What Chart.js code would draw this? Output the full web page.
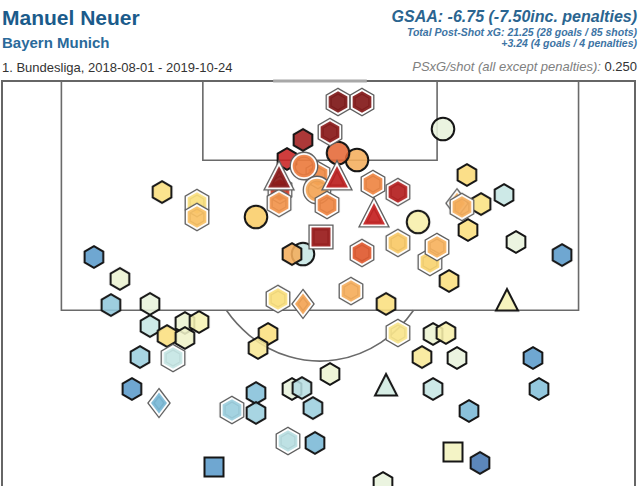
<!DOCTYPE html>
<html>
<head>
<meta charset="utf-8">
<script src="https://cdn.jsdelivr.net/npm/chart.js@4.4.1/dist/chart.umd.min.js"></script>
<style>
  body { margin: 0; background: #fff; font-family: "Liberation Sans", Arial, sans-serif; }
  #wrap { position: relative; width: 640px; height: 486px; overflow: hidden; }
  .t { position: absolute; white-space: nowrap; line-height: 1; }
  .r { right: 3px; text-align: right; font-weight: bold; font-style: italic; }
</style>
</head>
<body>
<div id="wrap">
  <div class="t" style="left:2px;top:7px;font-size:21px;font-weight:bold;color:#1b5b8b">Manuel Neuer</div>
  <div class="t" style="left:2px;top:35px;font-size:15px;font-weight:bold;color:#2a6a9a">Bayern Munich</div>
  <div class="t" style="left:2px;top:61px;font-size:13px;color:#333">1. Bundesliga, 2018-08-01 - 2019-10-24</div>
  <div class="t r" style="top:9px;font-size:16px;color:#2b6590">GSAA: -6.75 (-7.50inc. penalties)</div>
  <div class="t r" style="top:27px;font-size:10.5px;color:#3d74a4">Total Post-Shot xG: 21.25 (28 goals / 85 shots)</div>
  <div class="t r" style="top:38px;font-size:10.5px;color:#3d74a4">+3.24 (4 goals / 4 penalties)</div>
  <div class="t" style="right:3px;top:60px;font-size:13px;color:#333"><i style="color:#808080">PSxG/shot (all except penalties):</i> 0.250</div>
  <canvas id="shotChart" width="640" height="416" style="position:absolute;left:0;top:70px"></canvas>
</div>
<script>
// shot locations in metres: x across the pitch from the centre, y out from the goal line
const shotX = [10.7, -0.16, -3.13, -2.58, 8.59,
  2.89, 1.41, -1.25, -0.23, -5.0, 7.66, 9.61, -1.33,
  1.41, 3.28, 0.78, -1.33, 4.14, 6.09, 0.55, -3.2, -9.61, -9.61,
  -12.34, 11.48, 14.38, 12.58, 11.09, 11.56, 6.09, 9.14, 3.28, -2.19,
  15.31, 18.91, 10.08, 2.42, 5.16, -17.66, -15.63, -16.33, -13.28, -3.28,
  -13.28, -10.55, -9.45, -11.95, -10.55, -4.06, -4.84, 6.09, 8.83, 9.84,
  7.97, 10.7, 16.64, 0.78, -14.06, -11.48, -14.69, -5.0, -6.88, -5.0,
  -2.19, -1.41, -0.55, -2.5, -0.39, 8.83, 17.11, 11.64, 12.5, 4.92,
  -1.33, -12.58,
  -3.2, 1.33, 4.22, 14.61, 5.16,
  0.08, -8.28, 10.39];
const shotY = [8.8, 6.76, 7.84, 5.61, 13.02,
  5.68, 5.18, 6.12, 7.84, 9.78, 10.14, 3.45, 12.45,
  1.51, 1.51, 3.67, 4.24, 7.41, 7.99, 8.92, 8.78, 8.78, 9.78,
  7.99, 6.76, 8.2, 8.85, 9.06, 10.72, 11.65, 11.94, 12.37, 12.45,
  11.58, 12.52, 14.39, 15.11, 16.04, 12.66, 14.24, 16.12, 16.04, 15.68,
  17.63, 17.41, 17.34, 18.35, 18.49, 18.2, 19.21, 18.13, 18.2, 18.13,
  19.86, 19.93, 19.93, 21.08, 19.86, 19.93, 22.16, 22.45, 23.67, 23.88,
  22.16, 22.09, 23.53, 25.9, 26.04, 22.16, 22.16, 23.74, 27.48, 28.92,
  16.04, 23.17,
  6.91, 6.91, 9.57, 15.76, 21.87,
  11.22, 27.77, 26.69];
// post-shot xG of each shot (drives the colour)
const shotPsxg = [0.38, 0.45, 0.6, 0.65, 0.28,
  0.38, 0.52, 0.48, 0.40, 0.30, 0.2, 0.15, 0.12,
  0.92, 0.88, 0.85, 0.75, 0.46, 0.70, 0.46, 0.43, 0.25, 0.33,
  0.25, 0.26, 0.12, 0.24, 0.38, 0.25, 0.31, 0.37, 0.55, 0.38,
  0.15, 0.04, 0.25, 0.38, 0.25, 0.04, 0.16, 0.08, 0.15, 0.25,
  0.12, 0.16, 0.19, 0.25, 0.17, 0.25, 0.22, 0.23, 0.16, 0.20,
  0.22, 0.15, 0.04, 0.16, 0.09, 0.12, 0.04, 0.07, 0.09, 0.09,
  0.15, 0.11, 0.09, 0.11, 0.06, 0.12, 0.07, 0.06, 0.02, 0.15,
  0.40, 0.06,
  0.85, 0.68, 0.66, 0.19, 0.13,
  0.78, 0.04, 0.18];
const shotShape = ['diamond', 'hex', 'hex', 'hex', 'hex',
  'circle', 'circle', 'circle', 'circle', 'circle', 'circle', 'circle', 'circle',
  'hex', 'hex', 'hex', 'hex', 'hex', 'hex', 'hex', 'hex', 'hex', 'hex',
  'hex', 'hex', 'hex', 'hex', 'hex', 'hex', 'hex', 'hex', 'hex', 'hex',
  'hex', 'hex', 'hex', 'hex', 'hex', 'hex', 'hex', 'hex', 'hex', 'hex',
  'hex', 'hex', 'hex', 'hex', 'hex', 'hex', 'hex', 'hex', 'hex', 'hex',
  'hex', 'hex', 'hex', 'hex', 'hex', 'hex', 'hex', 'hex', 'hex', 'hex',
  'hex', 'hex', 'hex', 'hex', 'hex', 'hex', 'hex', 'hex', 'hex', 'hex',
  'diamond', 'diamond',
  'triangle', 'triangle', 'triangle', 'triangle', 'triangle',
  'square', 'square', 'square'];
const shotGoal = [1, 1, 1, 0, 1,
  0, 0, 1, 1, 0, 0, 0, 0,
  1, 1, 1, 0, 1, 1, 1, 1, 1, 1,
  0, 0, 0, 0, 1, 0, 1, 1, 1, 0,
  0, 0, 0, 1, 0, 0, 0, 0, 0, 1,
  0, 0, 0, 0, 0, 0, 0, 1, 0, 0,
  0, 0, 0, 0, 0, 1, 0, 0, 1, 0,
  0, 0, 0, 1, 0, 0, 0, 0, 0, 0,
  1, 1,
  1, 1, 1, 0, 0,
  1, 0, 0];

const X_MIN = -24.84, X_MAX = 24.61, Y_MAX = 29.14;

const colorStops = [[0.02, '#4676b0'], [0.04, '#5b9bcb'], [0.06, '#7ab8d6'], [0.09, '#9ccfde'],
  [0.12, '#c6e6e4'], [0.15, '#e8f3dc'], [0.19, '#f6f2b4'], [0.24, '#fae282'], [0.30, '#f9cd68'],
  [0.38, '#f5ae5c'], [0.45, '#ef8a45'], [0.55, '#e05a30'], [0.65, '#c82222'], [0.75, '#a01c1c'], [0.90, '#7e1818']];

function hexToRgb(h) { return [1, 3, 5].map(i => parseInt(h.substr(i, 2), 16)); }
function psxgColor(v) {
  if (v <= colorStops[0][0]) return colorStops[0][1];
  for (let i = 1; i < colorStops.length; i++) {
    if (v <= colorStops[i][0]) {
      const [v0, c0] = colorStops[i - 1], [v1, c1] = colorStops[i];
      const t = (v - v0) / (v1 - v0), a = hexToRgb(c0), b = hexToRgb(c1);
      return 'rgb(' + a.map((x, k) => Math.round(x + (b[k] - x) * t)).join(',') + ')';
    }
  }
  return colorStops[colorStops.length - 1][1];
}

function shapePath(ctx, type) {
  ctx.beginPath();
  if (type === 'hex') {
    for (let i = 0; i < 6; i++) {
      const a = (-90 + 60 * i) * Math.PI / 180;
      ctx.lineTo(10.8 * Math.cos(a), 10.8 * Math.sin(a));
    }
  } else if (type === 'circle') {
    ctx.arc(0, 0, 11.3, 0, Math.PI * 2);
  } else if (type === 'triangle') {
    ctx.moveTo(0, -11); ctx.lineTo(11, 10.5); ctx.lineTo(-11, 10.5);
  } else if (type === 'square') {
    ctx.rect(-9.5, -9.5, 19, 19);
  } else {
    ctx.moveTo(0, -10.5); ctx.lineTo(8, 0); ctx.lineTo(0, 10.5); ctx.lineTo(-8, 0);
  }
  ctx.closePath();
}

// every marker is a small canvas that Chart.js draws as the point style
function makeMarker(type, color, goal) {
  const c = document.createElement('canvas');
  c.width = 36; c.height = 36;
  const ctx = c.getContext('2d');
  ctx.translate(18, 18);
  ctx.lineJoin = 'miter';
  shapePath(ctx, type);
  if (goal) {
    ctx.strokeStyle = '#5e5e5e'; ctx.lineWidth = 6.2; ctx.stroke();
    ctx.strokeStyle = '#fff'; ctx.lineWidth = 3.6; ctx.stroke();
    ctx.globalAlpha = 0.92; ctx.fillStyle = color; ctx.fill();
  } else {
    ctx.globalAlpha = 0.88; ctx.fillStyle = color; ctx.fill();
    ctx.globalAlpha = 1; ctx.strokeStyle = '#161616'; ctx.lineWidth = 2; ctx.stroke();
  }
  return c;
}

const markers = shotX.map((x, i) => makeMarker(shotShape[i], psxgColor(shotPsxg[i]), shotGoal[i]));

const pitchLines = {
  id: 'pitchLines',
  beforeDatasetsDraw(chart) {
    const { ctx, chartArea: a, scales: { x, y } } = chart;
    ctx.save();
    ctx.strokeStyle = '#666';
    ctx.lineWidth = 2;
    ctx.beginPath();
    ctx.moveTo(a.left, a.bottom); ctx.lineTo(a.left, a.top);
    ctx.lineTo(a.right, a.top); ctx.lineTo(a.right, a.bottom);
    ctx.stroke();
    ctx.lineWidth = 1.6;
    ctx.strokeStyle = '#6a6a6a';
    // penalty area and six-yard box
    [[20.2, 16.5], [9.15, 5.7]].forEach(([w, d]) => {
      ctx.beginPath();
      ctx.moveTo(x.getPixelForValue(-w), y.getPixelForValue(0));
      ctx.lineTo(x.getPixelForValue(-w), y.getPixelForValue(d));
      ctx.lineTo(x.getPixelForValue(w), y.getPixelForValue(d));
      ctx.lineTo(x.getPixelForValue(w), y.getPixelForValue(0));
      ctx.stroke();
    });
    // penalty arc
    const cx = x.getPixelForValue(0), cy = y.getPixelForValue(11);
    const rx = x.getPixelForValue(9.15) - cx, ry = y.getPixelForValue(11 + 9.15) - cy;
    const boxDy = y.getPixelForValue(16.5) - cy;
    const t0 = Math.asin(boxDy / ry);
    ctx.beginPath();
    ctx.ellipse(cx, cy, rx, ry, 0, t0, Math.PI - t0);
    ctx.stroke();
    // goal mouth
    ctx.strokeStyle = '#a8a8a8';
    ctx.lineWidth = 3;
    ctx.beginPath();
    ctx.moveTo(x.getPixelForValue(-3.66), y.getPixelForValue(0));
    ctx.lineTo(x.getPixelForValue(3.66), y.getPixelForValue(0));
    ctx.stroke();
    ctx.restore();
  }
};

new Chart(document.getElementById('shotChart'), {
  type: 'scatter',
  data: {
    datasets: [{
      data: shotX.map((v, i) => ({ x: v, y: shotY[i] })),
      pointStyle: c => markers[c.dataIndex],
      pointRadius: 12,
      clip: false
    }]
  },
  options: {
    responsive: false,
    animation: false,
    events: [],
    layout: { autoPadding: false, padding: { left: 2, right: 5, top: 11, bottom: 0 } },
    plugins: { legend: { display: false }, tooltip: { enabled: false } },
    scales: {
      x: { type: 'linear', display: false, min: X_MIN, max: X_MAX },
      y: { type: 'linear', display: false, min: 0, max: Y_MAX, reverse: true }
    }
  },
  plugins: [pitchLines]
});
</script>
</body>
</html>
